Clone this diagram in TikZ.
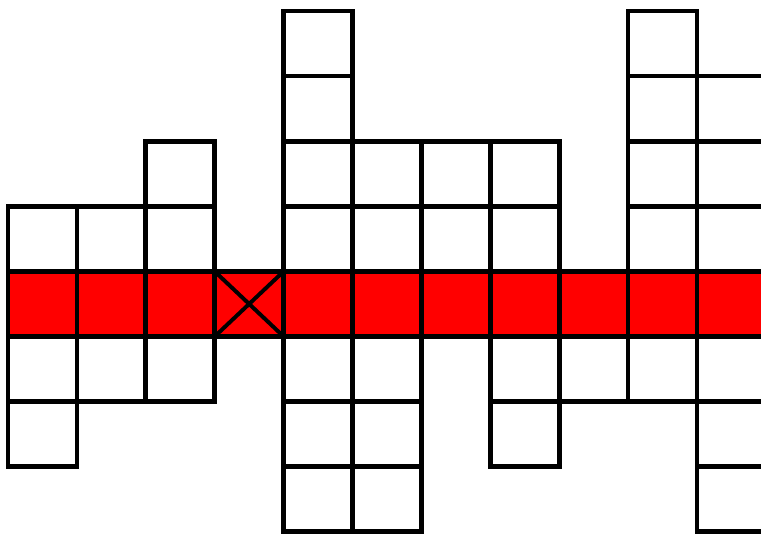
\documentclass[tikz,border=0pt]{standalone}
\usepackage{xcolor}
\usepackage{tikz}
\usetikzlibrary{positioning}
\definecolor{rowred}{RGB}{255,0,0}
\tikzset{
  cellbox/.style={draw, line width=3.3pt, fill=white,
                  minimum width=1.7225cm, minimum height=1.6275cm,
                  inner sep=0pt, outer sep=0pt},
  redbox/.style ={cellbox, fill=rowred},
  xline/.style  ={line width=2.8pt},
}
\begin{document}
\begin{tikzpicture}[x=1.7225cm,y=-1.6275cm]
  \useasboundingbox (-0.116,-0.169) rectangle (10.929,8.034);
  \clip (-0.116,-0.169) rectangle (10.929,8.034);
  %% white cells, column / rows
  \foreach \c/\rows in {0/{3,5,6},1/{3,5},2/{2,3,5},4/{0,1,2,3,5,6,7},
                        5/{2,3,5,6,7},6/{2,3},7/{2,3,5,6},8/{5},
                        9/{0,1,2,3,5},10/{1,2,3,5,6,7}}
    \foreach \r in \rows
      \node[cellbox] (c\c-\r) at (\c+0.5,\r+0.5) {};
  %% red row
  \foreach \c in {0,...,10}
    \node[redbox] (c\c-4) at (\c+0.5,4.5) {};
  \draw[xline](c3-4.north west)--(c3-4.south east);
  \draw[xline](c3-4.north east)--(c3-4.south west);
\end{tikzpicture}
\end{document}
